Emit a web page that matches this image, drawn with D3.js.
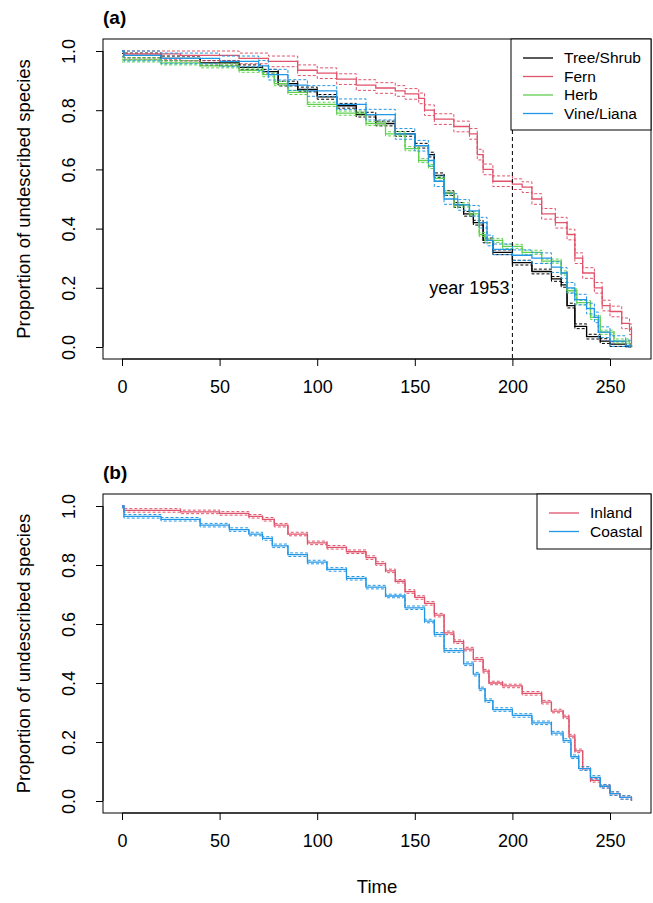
<!DOCTYPE html>
<html><head><meta charset="utf-8">
<script src="https://cdn.jsdelivr.net/npm/d3@7"></script>
<style>body{margin:0;background:#fff}svg{font-family:"Liberation Sans",Arial,sans-serif}</style>
</head><body><svg id="c" width="653" height="903"></svg>
<script>
// Panel (a) — life forms
const treeT = [0,1,20,40,60,72,80,90,100,110,120,130,140,150,157,160,165,170,175,180,185,190,200,210,220,225,228,232,238,245,250,258,261];
const treeS = [1,0.985,0.975,0.96,0.945,0.93,0.89,0.87,0.845,0.815,0.785,0.755,0.72,0.68,0.65,0.58,0.52,0.48,0.45,0.42,0.36,0.32,0.285,0.255,0.23,0.21,0.14,0.07,0.035,0.02,0.01,0.002,0];
const fernT = [0,1,30,60,75,90,100,110,120,130,140,145,152,155,160,170,178,182,185,190,200,205,210,215,222,228,232,236,242,246,250,256,260,261];
const fernS = [1,0.99,0.985,0.975,0.965,0.935,0.925,0.905,0.885,0.875,0.865,0.855,0.84,0.8,0.77,0.745,0.72,0.65,0.6,0.56,0.55,0.54,0.5,0.45,0.42,0.38,0.3,0.25,0.2,0.14,0.12,0.08,0.06,0];
const herbT = [0,20,40,60,72,78,85,95,110,125,135,145,152,157,160,165,170,178,183,186,195,205,215,225,228,233,240,245,252,260,261];
const herbS = [0.97,0.96,0.95,0.935,0.92,0.89,0.86,0.82,0.79,0.755,0.72,0.67,0.63,0.61,0.57,0.52,0.48,0.45,0.38,0.36,0.34,0.32,0.29,0.25,0.19,0.15,0.1,0.05,0.02,0.005,0];
const vineT = [0,1,20,50,70,75,85,95,110,125,140,150,157,160,165,172,178,183,187,190,200,210,220,225,228,232,238,242,244,250,258,261];
const vineS = [1,0.985,0.975,0.965,0.95,0.92,0.885,0.865,0.82,0.785,0.72,0.68,0.63,0.56,0.5,0.48,0.46,0.42,0.36,0.33,0.31,0.3,0.27,0.25,0.2,0.16,0.13,0.1,0.05,0.02,0.005,0];
const lifeNames = ["Tree/Shrub","Fern","Herb","Vine/Liana"];
const lifeCI = [0.008,0.018,0.007,0.018];
// Panel (b) — region
const inlandT = [0,1,30,50,65,72,78,85,95,105,115,125,130,135,140,145,150,155,160,165,170,175,180,185,188,195,205,215,220,226,229,232,236,240,245,250,255,261];
const inlandS = [1,0.985,0.98,0.975,0.965,0.955,0.935,0.905,0.875,0.86,0.845,0.825,0.805,0.78,0.745,0.71,0.69,0.67,0.63,0.57,0.54,0.515,0.48,0.44,0.4,0.39,0.365,0.335,0.305,0.285,0.22,0.17,0.11,0.07,0.05,0.025,0.012,0];
const coastT = [0,1,20,40,55,65,72,77,85,95,105,115,125,135,145,155,160,165,175,180,183,186,190,200,210,220,226,230,234,240,245,250,255,261];
const coastS = [1,0.965,0.955,0.935,0.92,0.905,0.89,0.865,0.835,0.81,0.785,0.755,0.725,0.695,0.655,0.61,0.565,0.51,0.465,0.43,0.38,0.34,0.31,0.29,0.265,0.23,0.205,0.15,0.11,0.08,0.05,0.025,0.012,0];
const regionNames = ["Inland","Coastal"];
const regionCI = [0.006,0.006];
const xTicks = [0,50,100,150,200,250];
const yTicks = [0,0.2,0.4,0.6,0.8,1.0];

const colors = ["#000000","#DF536B","#61D04F","#2297E6"];
const svg = d3.select("#c");
const x = d3.scaleLinear().domain([0,250]).range([122,610]);

function panel(o){
  const y = d3.scaleLinear().domain([0,1]).range([o.y0,o.y1]);
  const g = svg.append("g");
  g.append("rect").attr("x",103).attr("y",o.top).attr("width",548).attr("height",o.bot-o.top)
    .attr("fill","none").attr("stroke","#000");
  const line = d3.line().x(d=>x(d[0])).y(d=>y(d[1])).curve(d3.curveStepAfter);
  o.series.forEach(s=>{
    const pts = s.t.map((t,j)=>[t,s.s[j]]);
    const lo = pts.map(p=>[p[0],Math.max(0,p[1]-s.ci)]);
    const hi = pts.map(p=>[p[0],Math.min(1,p[1]+s.ci)]);
    [lo,hi].forEach(d=>g.append("path").attr("d",line(d)).attr("fill","none")
      .attr("stroke",s.c).attr("stroke-width",1).attr("stroke-dasharray","3,2"));
    g.append("path").attr("d",line(pts)).attr("fill","none").attr("stroke",s.c).attr("stroke-width",1.3);
  });
  const xa = g.append("g").attr("transform",`translate(0,${o.bot})`)
    .call(d3.axisBottom(x).tickValues(xTicks).tickSize(7).tickPadding(14));
  xa.select(".domain").attr("d",`M${x(0)},0H${x(250)}`);
  xa.selectAll("text").attr("font-size",18).attr("font-family","Liberation Sans");
  const ya = g.append("g").attr("transform","translate(103,0)")
    .call(d3.axisLeft(y).tickValues(yTicks).tickSize(7).tickFormat(d3.format(".1f")));
  ya.select(".domain").attr("d",`M0,${y(0)}V${y(1)}`);
  ya.selectAll("text").attr("font-size",18).attr("font-family","Liberation Sans")
    .attr("x",0).attr("y",0).attr("dy","0.35em").attr("text-anchor","middle")
    .attr("transform","translate(-34,0) rotate(-90)");
  g.append("text").attr("transform",`translate(30,${(o.top+o.bot)/2}) rotate(-90)`).attr("text-anchor","middle")
    .attr("font-size",18.5).text("Proportion of undescribed species");
  g.append("text").attr("x",103).attr("y",o.top-15).attr("font-size",19).attr("font-weight","bold").text(o.label);
  const L = o.legend;
  g.append("rect").attr("x",L.x).attr("y",o.top).attr("width",651-L.x).attr("height",L.h).attr("fill","#fff").attr("stroke","#000");
  o.series.forEach((s,i)=>{
    const ly = o.top+19+i*18.5;
    g.append("line").attr("x1",L.x+12).attr("x2",L.x+42).attr("y1",ly).attr("y2",ly).attr("stroke",s.c).attr("stroke-width",1.3);
    g.append("text").attr("x",L.x+53).attr("y",ly).attr("dy","0.35em").attr("font-size",15.5).text(s.n);
  });
  return {g,y};
}

const a = panel({top:39,bot:359,y0:347,y1:51,label:"(a)",legend:{x:511,h:91},
  series:[[treeT,treeS],[fernT,fernS],[herbT,herbS],[vineT,vineS]].map((d,i)=>({t:d[0],s:d[1],c:colors[i],n:lifeNames[i],ci:lifeCI[i]}))});
a.g.append("line").attr("x1",x(200)).attr("x2",x(200)).attr("y1",130).attr("y2",359)
  .attr("stroke","#000").attr("stroke-dasharray","4,3");
a.g.append("text").attr("x",x(200)-3).attr("y",a.y(0.2)).attr("dy","0.35em").attr("text-anchor","end").attr("font-size",18).text("year 1953");

panel({top:494,bot:813,y0:801,y1:506,label:"(b)",legend:{x:537,h:55},
  series:[[inlandT,inlandS],[coastT,coastS]].map((d,i)=>({t:d[0],s:d[1],c:colors[i===0?1:3],n:regionNames[i],ci:regionCI[i]}))});
svg.append("text").attr("x",377).attr("y",893).attr("text-anchor","middle").attr("font-size",18.5).text("Time");
</script></body></html>
